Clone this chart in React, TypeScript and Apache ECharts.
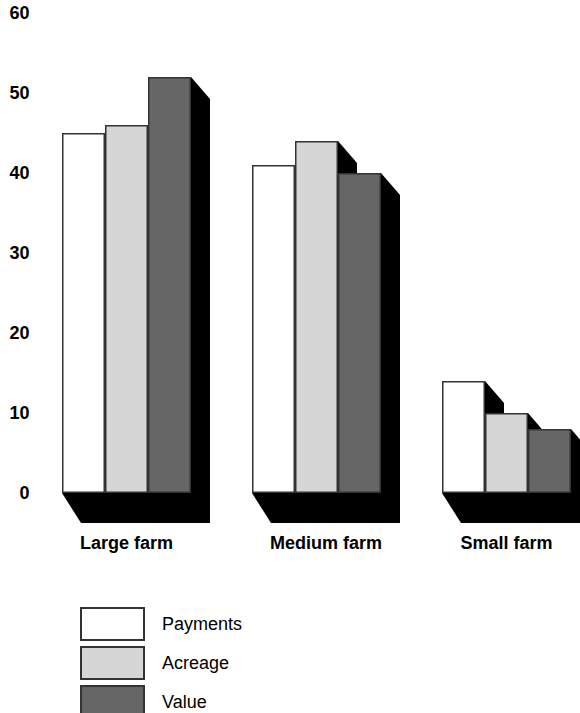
import React, { useEffect, useRef } from "react";
import * as echarts from "echarts";

const categories = ["Large farm", "Medium farm", "Small farm"];
const seriesNames = ["Payments", "Acreage", "Value"];
const payments = [45, 41, 14];
const acreage = [46, 44, 10];
const valueData = [52, 40, 8];
const colors = ["#ffffff", "#d6d6d6", "#666666"];

const FONT = "'Liberation Sans', Arial, Helvetica, sans-serif";

export default function App() {
  const ref = useRef<HTMLDivElement>(null);
  useEffect(() => {
    const chart = echarts.init(ref.current!, null, { renderer: "svg" });
    const allSeries = [payments, acreage, valueData];
    const BAR_W = 43;
    const shadowData: number[][] = [];
    allSeries.forEach((arr, s) => {
      arr.forEach((v, c) => shadowData.push([c, v, s]));
    });
    const barSeries = allSeries.map((arr, s) => ({
      name: seriesNames[s],
      type: "bar",
      data: arr,
      barWidth: BAR_W,
      barGap: "0%",
      z: 5,
      itemStyle: { color: colors[s], borderColor: "#333333", borderWidth: 1.5 },
    }));
    const categoryItems = categories.map((c, i) =>
      i === 1 ? { value: c, textStyle: { padding: [0, 0, 0, 19] } } : c
    );
    chart.setOption({
      animation: false,
      textStyle: { fontFamily: FONT },
      grid: { left: 31.5, top: 13, width: 570, height: 480, containLabel: false },
      xAxis: {
        type: "category",
        data: categoryItems,
        axisLine: { show: false },
        axisTick: { show: false },
        axisLabel: { fontSize: 18, fontWeight: "bold", color: "#000", margin: 41, fontFamily: FONT },
      },
      yAxis: {
        type: "value",
        min: 0,
        max: 60,
        interval: 10,
        axisLine: { show: false },
        axisTick: { show: false },
        splitLine: { show: false },
        axisLabel: { fontSize: 18, fontWeight: "bold", color: "#000", margin: 2, padding: [5, 0, 0, 0], fontFamily: FONT },
      },
      legend: {
        data: seriesNames,
        orient: "vertical",
        left: 80,
        top: 607,
        padding: 0,
        itemWidth: 63,
        itemHeight: 32,
        itemGap: 5,
        icon: "rect",
        textStyle: { fontSize: 18, color: "#000", fontFamily: FONT, padding: [0, 0, 0, 13] },
        selectedMode: false,
      },
      series: [
        {
          type: "custom",
          name: "shadow",
          z: 1,
          silent: true,
          clip: false,
          data: shadowData,
          renderItem: (params: any, api: any) => {
            const c = api.value(0);
            const v = api.value(1);
            const s = api.value(2);
            const base = api.coord([c, 0]);
            const top = api.coord([c, v]);
            const x0 = base[0] - (BAR_W * 3) / 2 + s * BAR_W;
            const x1 = x0 + BAR_W;
            const dx = 19;
            const dyTop = 22;
            const dyBot = 30;
            return {
              type: "polygon",
              shape: {
                points: [
                  [x0, top[1]],
                  [x1, top[1]],
                  [x1 + dx, top[1] + dyTop],
                  [x1 + dx, base[1] + dyBot],
                  [x0 + dx, base[1] + dyBot],
                  [x0, base[1]],
                ],
              },
              style: { fill: "#000000", stroke: "none" },
            };
          },
        },
        ...barSeries,
      ],
    });
    return () => chart.dispose();
  }, []);
  return (
    <div
      style={{ position: "fixed", left: 0, top: 0, width: 580, height: 713, overflow: "hidden", background: "#fff" }}
    >
      <div ref={ref} style={{ width: 620, height: 780 }} />
    </div>
  );
}
